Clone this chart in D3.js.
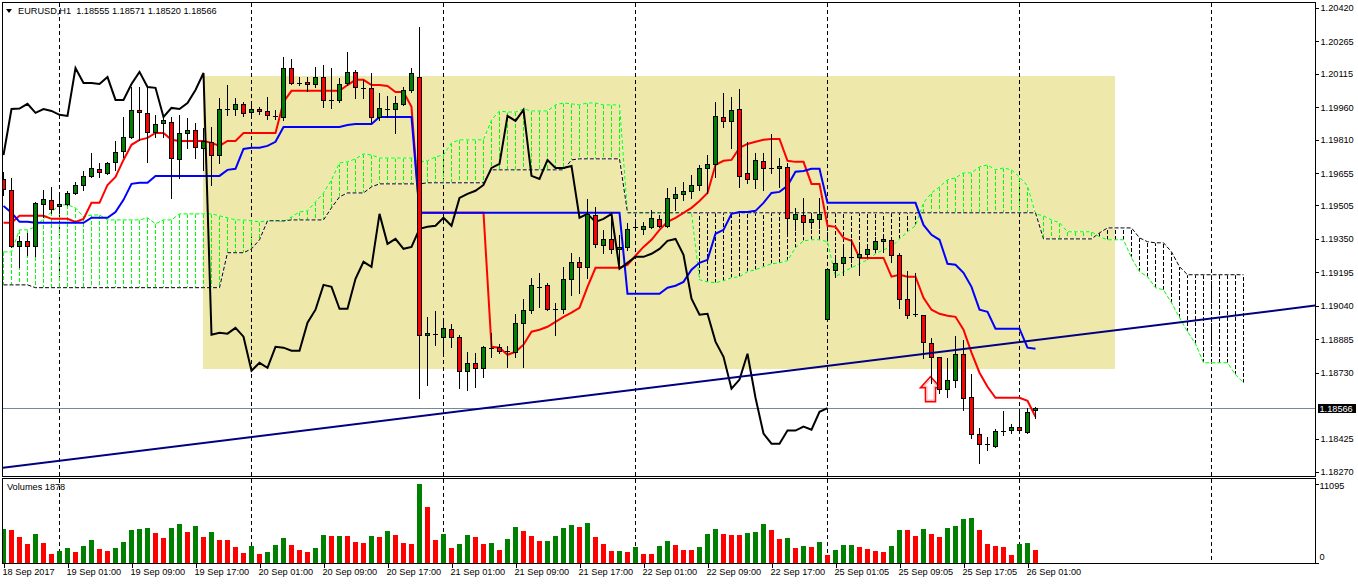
<!DOCTYPE html>
<html>
<head>
<meta charset="utf-8">
<script src="https://cdn.jsdelivr.net/npm/d3@7"></script>
<style>
  html,body{margin:0;padding:0;background:#ffffff;}
  svg{display:block;}
  text{font-family:"Liberation Sans",Arial,sans-serif;font-size:9.2px;fill:#000;}
</style>
</head>
<body>
<svg id="chart" width="1358" height="584"></svg>
<script>
// ---------------- DATA (EURUSD H1) ----------------
const symbol = "EURUSD,H1";
const opens = [
1.19628,1.19577,1.19318,1.19341,1.19318,1.19513,1.19531,1.19503,1.19513,1.19563,
1.19600,1.19642,1.19675,1.19656,1.19707,1.19758,1.19823,1.19948,1.19934,1.19846,
1.19887,1.19892,1.19721,1.19841,1.19855,1.19772,1.19800,1.19739,1.19952,1.19952,
1.19976,1.19938,1.19952,1.19943,1.19920,1.19915,1.20142,1.20073,1.20077,1.20068,
1.20100,1.19994,1.19994,1.20073,1.20124,1.20050,1.20050,1.19915,1.19952,1.19952,
1.19976,1.20040,1.20100,1.18906,1.18911,1.18897,1.18934,1.18897,1.18739,1.18776,
1.18753,1.18846,1.18850,1.18832,1.18827,1.18962,1.19022,1.19128,1.19137,1.19026,
1.19026,1.19165,1.19244,1.19221,1.19461,1.19323,1.19350,1.19304,1.19313,1.19406,
1.19397,1.19406,1.19443,1.19411,1.19540,1.19559,1.19573,1.19600,1.19679,1.19698,
1.19915,1.19897,1.19952,1.19656,1.19628,1.19712,1.19679,1.19679,1.19684,1.19443,
1.19461,1.19429,1.19443,1.18980,1.19207,1.19239,1.19267,1.19267,1.19281,1.19304,
1.19341,1.19346,1.19276,1.19073,1.19003,1.18999,1.18869,1.18804,1.18656,1.18698,
1.18818,1.18619,1.18448,1.18401,1.18392,1.18462,1.18466,1.18480,1.18457,1.18555];
const highs = [
1.19661,1.19633,1.19364,1.19378,1.19522,1.19577,1.19591,1.19559,1.19573,1.19614,
1.19665,1.19749,1.19702,1.19707,1.19804,1.19915,1.20054,1.20054,1.20054,1.19925,
1.19915,1.19915,1.19925,1.19911,1.19887,1.19864,1.19869,1.20003,1.20063,1.20003,
1.19985,1.19985,1.19962,1.20008,1.19948,1.20193,1.20184,1.20100,1.20100,1.20147,
1.20156,1.20142,1.20096,1.20216,1.20133,1.20087,1.20119,1.20026,1.20013,1.20013,
1.20054,1.20142,1.20332,1.18989,1.19017,1.18975,1.18957,1.18906,1.18827,1.18823,
1.18855,1.18915,1.18864,1.18855,1.19003,1.19073,1.19170,1.19193,1.19147,1.19054,
1.19221,1.19286,1.19267,1.19536,1.19499,1.19392,1.19452,1.19369,1.19425,1.19443,
1.19429,1.19485,1.19461,1.19587,1.19591,1.19614,1.19647,1.19693,1.19739,1.19985,
1.20026,1.20008,1.20045,1.19800,1.19749,1.19749,1.19837,1.19725,1.19702,1.19494,
1.19540,1.19471,1.19540,1.19216,1.19258,1.19313,1.19350,1.19318,1.19327,1.19360,
1.19360,1.19360,1.19286,1.19202,1.19193,1.18999,1.18892,1.18804,1.18800,1.18901,
1.18883,1.18725,1.18475,1.18434,1.18471,1.18554,1.18494,1.18559,1.18568,1.18571];
const lows = [
1.19554,1.19313,1.19221,1.19276,1.19272,1.19452,1.19471,1.19471,1.19508,1.19559,
1.19577,1.19638,1.19638,1.19651,1.19670,1.19730,1.19818,1.19809,1.19707,1.19823,
1.19823,1.19540,1.19633,1.19772,1.19725,1.19670,1.19600,1.19702,1.19925,1.19925,
1.19920,1.19915,1.19929,1.19906,1.19906,1.19901,1.20068,1.20063,1.20036,1.20054,
1.19962,1.19957,1.19985,1.20063,1.20003,1.20003,1.19892,1.19901,1.19915,1.19841,
1.19971,1.20031,1.18614,1.18674,1.18860,1.18823,1.18850,1.18661,1.18651,1.18665,
1.18712,1.18804,1.18823,1.18758,1.18804,1.18758,1.19008,1.19036,1.19022,1.18906,
1.19008,1.19091,1.19100,1.19170,1.19313,1.19286,1.19286,1.19239,1.19300,1.19392,
1.19374,1.19401,1.19406,1.19406,1.19485,1.19531,1.19540,1.19577,1.19563,1.19638,
1.19869,1.19772,1.19591,1.19610,1.19587,1.19577,1.19656,1.19591,1.19369,1.19392,
1.19383,1.19401,1.19401,1.18975,1.19175,1.19184,1.19244,1.19184,1.19267,1.19300,
1.19290,1.19244,1.19031,1.18985,1.18994,1.18800,1.18684,1.18637,1.18619,1.18665,
1.18559,1.18429,1.18313,1.18374,1.18387,1.18443,1.18452,1.18457,1.18452,1.18520];
const closes = [
1.19582,1.19318,1.19341,1.19318,1.19517,1.19536,1.19489,1.19513,1.19563,1.19600,
1.19642,1.19679,1.19661,1.19702,1.19753,1.19823,1.19948,1.19938,1.19846,1.19883,
1.19901,1.19725,1.19841,1.19855,1.19776,1.19804,1.19739,1.19952,1.19954,1.19976,
1.19934,1.19952,1.19943,1.19925,1.19920,1.20142,1.20073,1.20073,1.20068,1.20100,
1.19994,1.19994,1.20068,1.20124,1.20054,1.20050,1.19915,1.19957,1.19952,1.19980,
1.20040,1.20119,1.18906,1.18915,1.18911,1.18938,1.18897,1.18739,1.18776,1.18753,
1.18850,1.18846,1.18832,1.18832,1.18962,1.19022,1.19137,1.19128,1.19026,1.19026,
1.19165,1.19244,1.19221,1.19466,1.19327,1.19350,1.19304,1.19313,1.19397,1.19406,
1.19411,1.19448,1.19411,1.19540,1.19559,1.19573,1.19600,1.19679,1.19698,1.19920,
1.19897,1.19948,1.19642,1.19628,1.19716,1.19679,1.19679,1.19688,1.19448,1.19466,
1.19429,1.19443,1.19466,1.19212,1.19239,1.19267,1.19267,1.19281,1.19304,1.19341,
1.19350,1.19276,1.19073,1.18999,1.19003,1.18874,1.18804,1.18656,1.18698,1.18818,
1.18614,1.18448,1.18401,1.18401,1.18462,1.18462,1.18480,1.18466,1.18549,1.18566];
const volumes = [
4760,4620,3640,2660,4060,2800,1260,1680,2100,1540,
2380,3220,1960,1680,2100,2940,4620,4690,4900,4200,
3500,4900,5460,4340,5180,3640,4340,3220,3180,2240,
1400,2380,1260,1540,2520,3500,2520,1820,1540,2100,
3920,3780,3820,3780,2940,2800,3780,3640,4480,3920,
2800,2660,11095,7840,3220,4060,2100,2660,3920,3640,
2660,2800,1820,3360,5040,4480,3780,3080,3120,3780,
4900,5320,5040,5600,3640,2660,1680,1720,1540,2240,
1260,1240,2380,3080,2520,1820,1800,2240,4060,4760,
4060,3920,3900,4200,4340,5460,4620,3360,3500,2100,
2380,2240,2940,1120,1820,2520,2550,2240,1960,1680,
1540,2380,4620,4580,3780,4760,4060,3640,4900,5180,
6160,6300,4620,2660,2380,2240,1120,2660,2800,1878];
// Ichimoku: Tenkan-sen (red), Kijun-sen (blue)
const tenkan = [
1.19425,1.19425,1.19457,1.19457,1.19457,1.19457,1.19443,1.19443,1.19443,1.19429,
1.19443,1.19517,1.19517,1.19600,1.19637,1.19716,1.19786,1.19809,1.19818,1.19841,
1.19841,1.19809,1.19804,1.19804,1.19804,1.19804,1.19795,1.19781,1.19804,1.19804,
1.19841,1.19841,1.19841,1.19841,1.19841,1.19985,1.20036,1.20036,1.20036,1.20036,
1.20036,1.20036,1.20036,1.20063,1.20087,1.20087,1.20063,1.20063,1.20059,1.20031,
1.20031,1.19962,1.19471,1.19471,1.19471,1.19471,1.19471,1.19471,1.19471,1.19471,
1.19471,1.18850,1.18846,1.18813,1.18827,1.18860,1.18920,1.18929,1.18943,1.18966,
1.18989,1.19008,1.19031,1.19128,1.19216,1.19216,1.19216,1.19216,1.19230,1.19272,
1.19313,1.19346,1.19392,1.19429,1.19448,1.19471,1.19494,1.19526,1.19563,1.19693,
1.19712,1.19716,1.19772,1.19790,1.19800,1.19809,1.19813,1.19813,1.19712,1.19707,
1.19707,1.19605,1.19605,1.19411,1.19406,1.19355,1.19341,1.19262,1.19262,1.19262,
1.19262,1.19175,1.19184,1.19175,1.19175,1.19077,1.19022,1.19003,1.18994,1.18989,
1.18929,1.18823,1.18730,1.18665,1.18614,1.18614,1.18614,1.18614,1.18600,1.18526];
const kijun = [
1.19503,1.19471,1.19429,1.19429,1.19425,1.19425,1.19425,1.19425,1.19425,1.19425,
1.19425,1.19448,1.19448,1.19448,1.19475,1.19531,1.19605,1.19610,1.19610,1.19642,
1.19642,1.19642,1.19642,1.19642,1.19642,1.19642,1.19642,1.19642,1.19670,1.19675,
1.19767,1.19772,1.19772,1.19781,1.19800,1.19869,1.19869,1.19869,1.19869,1.19869,
1.19869,1.19869,1.19869,1.19878,1.19883,1.19883,1.19883,1.19915,1.19915,1.19915,
1.19915,1.19915,1.19471,1.19471,1.19471,1.19471,1.19471,1.19471,1.19471,1.19471,
1.19471,1.19471,1.19471,1.19471,1.19471,1.19471,1.19471,1.19471,1.19471,1.19471,
1.19471,1.19471,1.19471,1.19471,1.19471,1.19471,1.19471,1.19471,1.19096,1.19096,
1.19096,1.19096,1.19096,1.19124,1.19133,1.19151,1.19207,1.19239,1.19253,1.19374,
1.19392,1.19466,1.19475,1.19475,1.19480,1.19517,1.19563,1.19568,1.19596,1.19661,
1.19665,1.19675,1.19675,1.19517,1.19517,1.19517,1.19517,1.19517,1.19517,1.19517,
1.19517,1.19517,1.19517,1.19517,1.19517,1.19415,1.19369,1.19346,1.19235,1.19230,
1.19193,1.19128,1.19022,1.19012,1.18934,1.18934,1.18934,1.18934,1.18846,1.18841];
// Senkou Span A / B (cloud, already displaced 26 bars forward: 156 values)
const spanA = [
1.19290,1.19290,1.19392,1.19392,1.19406,1.19443,1.19475,1.19508,1.19508,1.19494,
1.19452,1.19461,1.19461,1.19438,1.19438,1.19438,1.19438,1.19438,1.19448,1.19420,
1.19438,1.19438,1.19466,1.19466,1.19466,1.19466,1.19466,1.19457,1.19448,1.19438,
1.19438,1.19434,1.19429,1.19434,1.19434,1.19429,1.19452,1.19475,1.19480,1.19522,
1.19563,1.19624,1.19702,1.19707,1.19721,1.19744,1.19739,1.19725,1.19725,1.19725,
1.19725,1.19725,1.19707,1.19712,1.19730,1.19739,1.19795,1.19809,1.19809,1.19809,
1.19809,1.19901,1.19943,1.19938,1.19938,1.19952,1.19943,1.19943,1.19943,1.19971,
1.19980,1.19976,1.19971,1.19980,1.19980,1.19971,1.19971,1.19971,1.19471,1.19471,
1.19471,1.19471,1.19471,1.19471,1.19471,1.19471,1.19471,1.19161,1.19151,1.19147,
1.19156,1.19170,1.19175,1.19198,1.19207,1.19221,1.19235,1.19239,1.19249,1.19309,
1.19341,1.19346,1.19346,1.19337,1.19175,1.19198,1.19216,1.19235,1.19253,1.19281,
1.19300,1.19313,1.19350,1.19383,1.19411,1.19517,1.19563,1.19591,1.19624,1.19633,
1.19656,1.19656,1.19684,1.19693,1.19670,1.19679,1.19670,1.19637,1.19596,1.19466,
1.19457,1.19438,1.19425,1.19383,1.19383,1.19383,1.19383,1.19360,1.19346,1.19346,
1.19346,1.19262,1.19198,1.19175,1.19124,1.19114,1.19054,1.18985,1.18920,1.18864,
1.18776,1.18776,1.18776,1.18776,1.18721,1.18684];
const spanB = [
1.19137,1.19137,1.19137,1.19137,1.19124,1.19124,1.19124,1.19124,1.19124,1.19124,
1.19124,1.19124,1.19124,1.19124,1.19124,1.19124,1.19124,1.19124,1.19124,1.19124,
1.19124,1.19124,1.19124,1.19124,1.19124,1.19124,1.19124,1.19124,1.19286,1.19286,
1.19286,1.19304,1.19346,1.19434,1.19434,1.19434,1.19438,1.19438,1.19438,1.19438,
1.19438,1.19494,1.19545,1.19563,1.19563,1.19563,1.19591,1.19605,1.19605,1.19605,
1.19605,1.19605,1.19605,1.19610,1.19610,1.19610,1.19610,1.19610,1.19610,1.19610,
1.19610,1.19670,1.19670,1.19670,1.19670,1.19670,1.19670,1.19670,1.19670,1.19670,
1.19670,1.19716,1.19721,1.19721,1.19721,1.19721,1.19721,1.19721,1.19471,1.19471,
1.19471,1.19471,1.19471,1.19471,1.19471,1.19471,1.19471,1.19471,1.19471,1.19471,
1.19471,1.19471,1.19471,1.19471,1.19471,1.19471,1.19471,1.19471,1.19471,1.19471,
1.19471,1.19471,1.19471,1.19471,1.19471,1.19471,1.19471,1.19471,1.19471,1.19471,
1.19471,1.19471,1.19471,1.19471,1.19471,1.19471,1.19471,1.19471,1.19471,1.19471,
1.19471,1.19471,1.19471,1.19471,1.19471,1.19471,1.19471,1.19471,1.19471,1.19471,
1.19350,1.19350,1.19350,1.19350,1.19350,1.19350,1.19350,1.19378,1.19401,1.19401,
1.19401,1.19401,1.19355,1.19337,1.19332,1.19332,1.19290,1.19221,1.19184,1.19184,
1.19184,1.19184,1.19184,1.19184,1.19184,1.19184];
const chikouShift = 26;
// axis labels
const timeLabels = ["18 Sep 2017","19 Sep 01:00","19 Sep 09:00","19 Sep 17:00","20 Sep 01:00",
  "20 Sep 09:00","20 Sep 17:00","21 Sep 01:00","21 Sep 09:00","21 Sep 17:00","22 Sep 01:00",
  "22 Sep 09:00","22 Sep 17:00","25 Sep 01:05","25 Sep 09:05","25 Sep 17:05","26 Sep 01:00"];
const timeLabelBars = [0,8,16,24,32,40,48,56,64,72,80,88,96,104,112,120,128];
const dayGridBars = [7,31,55,79,103,127,151];
const priceTicks = [1.20420,1.20265,1.20115,1.19960,1.19810,1.19655,1.19505,1.19350,
  1.19195,1.19040,1.18885,1.18730,1.18425,1.18270];
const volumeTicks = [11095, 0];
// objects
const rectBars = [25, 139];
const rectPrices = [1.20105, 1.18749];
const trendPoints = [{bar:0, price:1.18290},{bar:160, price:1.19023}];
const arrowBar = 116, arrowPrice = 1.18712;

// ---------------- LAYOUT ----------------
const svg = d3.select("#chart");
const PL = 2.5, PR = 1315.5, PT = 2.5, PB = 476.5, VT = 478.5, VB = 563.5;
const x = d3.scaleLinear().domain([0, 1]).range([3.5, 11.5]);          // bar index -> centre px
const y = d3.scaleLinear().domain([1.182514, 1.204478]).range([476, 2]); // price -> px
const vy = d3.scaleLinear().domain([0, 11095]).range([563, 483.5]);     // volume -> px
const crisp = v => Math.round(v) + 0.5;

const defs = svg.append("defs");
defs.append("clipPath").attr("id", "clipMain").append("rect")
  .attr("x", 3).attr("y", 3).attr("width", PR - 3.5).attr("height", PB - 3.5);
defs.append("clipPath").attr("id", "clipVol").append("rect")
  .attr("x", 3).attr("y", VT + 0.5).attr("width", PR - 3.5).attr("height", VB - VT - 1);

const main = svg.append("g").attr("clip-path", "url(#clipMain)");

// yellow rectangle object (background)
main.append("rect")
  .attr("x", x(rectBars[0]) - 0.5).attr("width", x(rectBars[1]) - x(rectBars[0]))
  .attr("y", Math.round(y(rectPrices[0]))).attr("height", Math.round(y(rectPrices[1])) - Math.round(y(rectPrices[0])))
  .attr("fill", "#EEE8AA").attr("shape-rendering", "crispEdges");

// vertical day grid
main.selectAll("line.grid").data(dayGridBars).join("line").attr("class", "grid")
  .attr("x1", d => x(d)).attr("x2", d => x(d)).attr("y1", PT).attr("y2", PB)
  .attr("stroke", "#000").attr("stroke-width", 1).attr("stroke-dasharray", "4,3")
  .attr("shape-rendering", "crispEdges");

// bid line
const lastClose = closes[closes.length - 1];
main.append("line").attr("x1", 3).attr("x2", PR).attr("y1", crisp(y(lastClose))).attr("y2", crisp(y(lastClose)))
  .attr("stroke", "#778899").attr("stroke-width", 1).attr("shape-rendering", "crispEdges");

// cloud hatching
const cloud = spanA.map((a, i) => ({i, a, b: spanB[i]}));
main.selectAll("line.hatch").data(cloud.filter(d => Math.abs(d.a - d.b) > 0.000005)).join("line")
  .attr("class", "hatch")
  .attr("x1", d => x(d.i)).attr("x2", d => x(d.i))
  .attr("y1", d => y(d.a)).attr("y2", d => y(d.b))
  .attr("stroke", d => d.a > d.b ? "#00FF00" : "#000000")
  .attr("stroke-width", 1).attr("stroke-dasharray", "4,2")
  .attr("shape-rendering", "crispEdges");

const lineGen = d3.line().x(d => x(d.i)).y(d => y(d.v));
const toPts = arr => arr.map((v, i) => ({i, v}));

// span lines: white gaps + dotted colour
[[spanA, "#00FF00"], [spanB, "#000000"]].forEach(([arr, col]) => {
  main.append("path").attr("d", lineGen(toPts(arr))).attr("fill", "none")
    .attr("stroke", "#ffffff").attr("stroke-width", 1);
  main.append("path").attr("d", lineGen(toPts(arr))).attr("fill", "none")
    .attr("stroke", col).attr("stroke-width", 1).attr("stroke-dasharray", "4,2");
});

// Tenkan, Kijun, Chikou
main.append("path").attr("d", lineGen(toPts(tenkan))).attr("fill", "none")
  .attr("stroke", "#FF0000").attr("stroke-width", 2).attr("stroke-linejoin", "miter");
main.append("path").attr("d", lineGen(toPts(kijun))).attr("fill", "none")
  .attr("stroke", "#0000FF").attr("stroke-width", 2);
const chikou = closes.slice(chikouShift).map((v, i) => ({i, v}));
main.append("path").attr("d", lineGen(chikou)).attr("fill", "none")
  .attr("stroke", "#000000").attr("stroke-width", 2);

// arrow object (hollow up arrow)
(function () {
  const ax = x(arrowBar) - 1, ay = y(arrowPrice);
  const pts = [[0,0],[10,11],[5,11],[5,25],[-5,25],[-5,11],[-10,11]];
  const p = d3.line()(pts.map(([dx, dy]) => [ax + dx, ay + dy])) + "Z";
  main.append("path").attr("d", p).attr("fill", "#ffffff").attr("stroke", "#FF0000").attr("stroke-width", 1.6);
  const inner = [[0,3],[6.5,9.5],[3.5,9.5],[3.5,23.5],[-3.5,23.5],[-3.5,9.5],[-6.5,9.5]];
  main.append("path").attr("d", d3.line()(inner.map(([dx, dy]) => [ax + dx, ay + dy])) + "Z")
    .attr("fill", "none").attr("stroke", "#FFB0B0").attr("stroke-width", 1);
})();

// candles
const bars = opens.map((o, i) => ({i, o, h: highs[i], l: lows[i], c: closes[i]}));
const cg = main.append("g").attr("shape-rendering", "crispEdges");
cg.selectAll("line.wick").data(bars).join("line").attr("class", "wick")
  .attr("x1", d => x(d.i)).attr("x2", d => x(d.i))
  .attr("y1", d => Math.round(y(d.h))).attr("y2", d => Math.round(y(d.l)) + 1)
  .attr("stroke", "#000").attr("stroke-width", 1);
bars.forEach(d => {
  const yo = Math.round(y(d.o)), yc = Math.round(y(d.c));
  if (yo === yc) {
    cg.append("line").attr("x1", x(d.i) - 2.5).attr("x2", x(d.i) + 2.5)
      .attr("y1", yo + 0.5).attr("y2", yo + 0.5).attr("stroke", "#000").attr("stroke-width", 1);
  } else {
    const top = Math.min(yo, yc), bot = Math.max(yo, yc);
    cg.append("rect").attr("x", x(d.i) - 2).attr("width", 4)
      .attr("y", top + 0.5).attr("height", bot - top)
      .attr("fill", d.c > d.o ? "#008000" : "#FF0000")
      .attr("stroke", "#000").attr("stroke-width", 1);
  }
});

// trend line (object, drawn on top)
(function () {
  const x0 = x(trendPoints[0].bar), y0 = y(trendPoints[0].price);
  const x1 = x(trendPoints[1].bar), y1 = y(trendPoints[1].price);
  const m = (y1 - y0) / (x1 - x0);
  main.append("line").attr("x1", 0).attr("y1", y0 + m * (0 - x0))
    .attr("x2", PR).attr("y2", y0 + m * (PR - x0))
    .attr("stroke", "#000080").attr("stroke-width", 2);
})();

// ---------------- VOLUME PANEL ----------------
const vol = svg.append("g").attr("clip-path", "url(#clipVol)");
vol.selectAll("line.grid").data(dayGridBars).join("line")
  .attr("x1", d => x(d)).attr("x2", d => x(d)).attr("y1", VT).attr("y2", VB)
  .attr("stroke", "#000").attr("stroke-width", 1).attr("stroke-dasharray", "4,3")
  .attr("shape-rendering", "crispEdges");
vol.selectAll("rect.vb").data(volumes.map((v, i) => ({i, v}))).join("rect").attr("class", "vb")
  .attr("x", d => x(d.i) - 2.5).attr("width", 5)
  .attr("y", d => Math.round(vy(d.v))).attr("height", d => vy(0) - Math.round(vy(d.v)))
  .attr("fill", d => (d.i === 0 || d.v > volumes[d.i - 1]) ? "#008000" : "#FF0000")
  .attr("shape-rendering", "crispEdges");

// ---------------- FRAMES ----------------
svg.append("rect").attr("x", PL).attr("y", PT).attr("width", PR - PL).attr("height", PB - PT)
  .attr("fill", "none").attr("stroke", "#000").attr("shape-rendering", "crispEdges");
svg.append("rect").attr("x", PL).attr("y", VT).attr("width", PR - PL).attr("height", VB - VT)
  .attr("fill", "none").attr("stroke", "#000").attr("shape-rendering", "crispEdges");

// ---------------- AXES ----------------
const yAxis = svg.append("g").attr("transform", `translate(${PR},0)`)
  .call(d3.axisRight(y).tickValues(priceTicks).tickSize(3).tickPadding(2).tickFormat(d => d.toFixed(5)));
yAxis.select(".domain").remove();
yAxis.attr("font-family", null).attr("font-size", null);
yAxis.selectAll("line").attr("shape-rendering", "crispEdges");

const xAxis = svg.append("g").attr("transform", `translate(0,${VB})`)
  .call(d3.axisBottom(x).tickValues(timeLabelBars).tickSize(4).tickPadding(1)
    .tickFormat((d, k) => timeLabels[k]));
xAxis.select(".domain").remove();
xAxis.attr("font-family", null).attr("font-size", null);
xAxis.selectAll("text").attr("text-anchor", "start").attr("x", -1.5);
xAxis.selectAll("line").attr("shape-rendering", "crispEdges");

// volume scale labels
const vTickY = [488.5, 559.5];
svg.selectAll("text.vt").data(volumeTicks).join("text").attr("class", "vt")
  .attr("x", PR + 4).attr("y", (d, k) => vTickY[k]).text(d => d);
svg.selectAll("line.vtk").data(volumeTicks).join("line").attr("class", "vtk")
  .attr("x1", PR).attr("x2", PR + 3).attr("y1", d => crisp(vy(d))).attr("y2", d => crisp(vy(d)))
  .attr("stroke", "#000").attr("shape-rendering", "crispEdges");

// bid price label
const by = y(lastClose);
svg.append("rect").attr("x", PR + 2).attr("y", Math.round(by) - 4).attr("width", 38).attr("height", 9)
  .attr("fill", "#000").attr("shape-rendering", "crispEdges");
svg.append("text").attr("x", PR + 4).attr("y", Math.round(by) + 3.5)
  .style("fill", "#fff").text(lastClose.toFixed(5));

// header
const n = opens.length - 1;
svg.append("path").attr("d", "M6,9 L12,9 L9,13 Z").attr("fill", "#000");
svg.append("text").attr("x", 18).attr("y", 14).style("white-space", "pre")
  .text(`${symbol}  ${opens[n].toFixed(5)} ${highs[n].toFixed(5)} ${lows[n].toFixed(5)} ${closes[n].toFixed(5)}`);
svg.append("text").attr("x", 7).attr("y", 490).text(`Volumes ${volumes[n]}`);
</script>
</body>
</html>
